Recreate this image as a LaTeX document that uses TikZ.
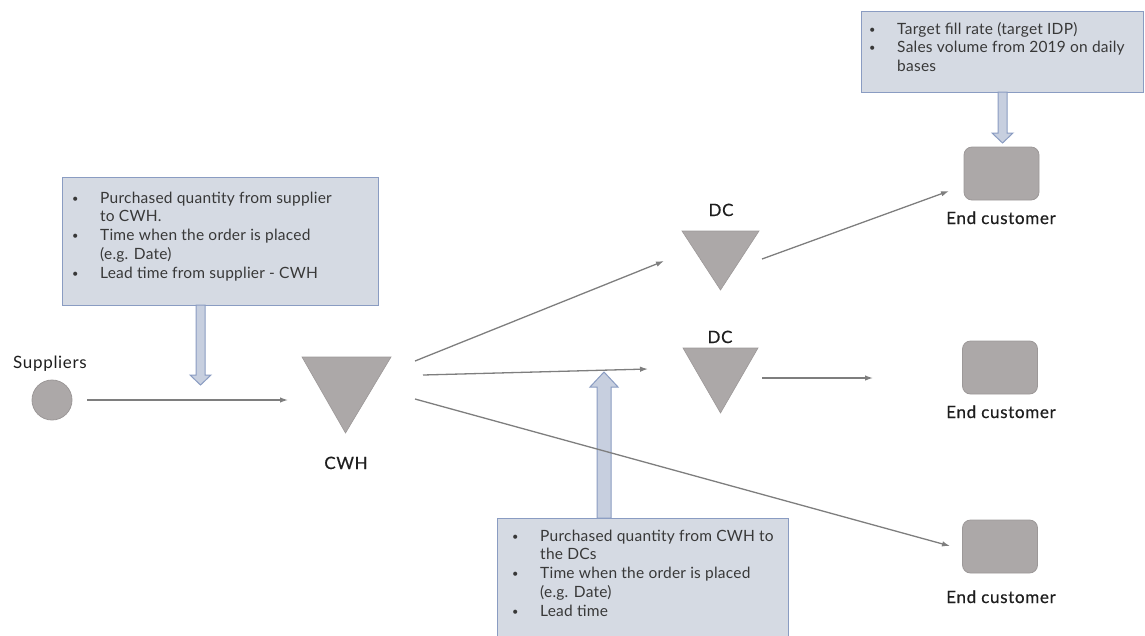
\documentclass[tikz,border=0pt]{standalone}
\usepackage{fontspec}
\setmainfont{Lato}
\newfontfamily\notefam[LetterSpace=1.5]{Lato}
\newfontfamily\labelfam[LetterSpace=4, FakeBold=0.5]{Lato}
\newfontfamily\plainlabelfam[LetterSpace=4]{Lato}
\usetikzlibrary{arrows.meta}
\definecolor{boxfill}{HTML}{D5DAE3}
\definecolor{boxline}{HTML}{8A9CC2}
\definecolor{arrfill}{HTML}{C7CFDF}
\definecolor{shapefill}{HTML}{ACA8A8}
\definecolor{shapeline}{HTML}{9C9898}
\definecolor{linkgray}{HTML}{7E7E7E}
\definecolor{labeltext}{HTML}{1E1E1E}
\definecolor{notetext}{HTML}{383838}
\newcommand{\notefont}{\notefam\fontsize{15.5}{18.75}\selectfont}
\newcommand{\bul}{\raisebox{1pt}{\fontsize{11}{11}\selectfont •}}
\begin{document}
\begin{tikzpicture}[x=1pt,y=-1pt,
  notebox/.style={draw=boxline, fill=boxfill, line width=1.1pt, anchor=north west, inner sep=0pt},
  notetxt/.style={anchor=base west, inner sep=0pt, text=notetext, font=\notefont},
  blockarrow/.style={draw=boxline, fill=arrfill, line width=1pt, line join=miter},
  tri/.style={fill=shapefill, draw=shapeline, line width=0.6pt},
  custbox/.style={draw=shapeline, fill=shapefill, line width=0.8pt, rounded corners=8pt, minimum width=75pt, minimum height=53pt, inner sep=0pt},
  lbl/.style={anchor=base, inner sep=0pt, text=labeltext, font=\labelfam\fontsize{17}{19}\selectfont},
  link/.style={draw=linkgray, line width=1.3pt, -{Latex[length=8pt,width=5.5pt]}}]
\useasboundingbox (0,0) rectangle (1145,635);
\clip (0,0) rectangle (1145,635);

% information boxes
\node[notebox, minimum width=316pt, minimum height=128pt] (supnote) at (62,177) {};
\node[notebox, minimum width=282pt, minimum height=81pt] (custnote) at (861,11) {};
\node[notebox, minimum width=291pt, minimum height=140pt] (dcnote) at (497,518) {};

\node[notetxt] (supnotetxt) at (72,203) {\begin{tabular}[t]{@{}p{28pt}@{}l@{}}
  \bul & Purchased quantity from supplier\\
       & to CWH.\\
  \bul & Time when the order is placed\\
       & (e.g. Date)\\
  \bul & Lead time from supplier - CWH
\end{tabular}};
\node[notetxt] (custnotetxt) at (869,34) {\begin{tabular}[t]{@{}p{28pt}@{}l@{}}
  \bul & Target fill rate (target IDP)\\
  \bul & Sales volume from 2019 on daily\\
       & bases
\end{tabular}};
\node[notetxt] (dcnotetxt) at (512,541) {\begin{tabular}[t]{@{}p{28pt}@{}l@{}}
  \bul & Purchased quantity from CWH to\\
       & the DCs\\
  \bul & Time when the order is placed\\
       & (e.g. Date)\\
  \bul & Lead time
\end{tabular}};

% block arrows from the boxes
\draw[blockarrow] (196,305) -- (205,305) -- (205,375) -- (211,375) -- (200.5,385)
  -- (190,375) -- (196,375) -- cycle;
\draw[blockarrow] (998,92) -- (1007,92) -- (1007,133) -- (1013,133) -- (1002.5,143)
  -- (992,133) -- (998,133) -- cycle;
\draw[blockarrow] (597,518) -- (611,518) -- (611,387) -- (618,387) -- (604,372)
  -- (590,387) -- (597,387) -- cycle;

% supplier
\node[circle, fill=shapefill, draw=shapeline, line width=0.8pt, minimum size=40pt, inner sep=0pt] (sup) at (52,400) {};
\node[lbl, font=\plainlabelfam\fontsize{17}{19}\selectfont] (suplbl) at (50,368) {Suppliers};

% central warehouse and distribution centres
\draw[tri] (302,357) -- (391,357) -- (345.5,433) -- cycle;
\node[lbl] (cwh) at (346,469) {CWH};
\draw[tri] (682,231) -- (759,231) -- (720.5,290) -- cycle;
\node[lbl] (dc1) at (721,216) {DC};
\draw[tri] (683,348) -- (758,348) -- (720.5,413) -- cycle;
\node[lbl] (dc2) at (720,343) {DC};

% end customers
\node[custbox] (ec1) at (1001.5,173.5) {};
\node[lbl] (ec1lbl) at (1001,224) {End customer};
\node[custbox] (ec2) at (1000,367.5) {};
\node[lbl] (ec2lbl) at (1001,418) {End customer};
\node[custbox] (ec3) at (1000,546.5) {};
\node[lbl] (ec3lbl) at (1001,603) {End customer};

% connector end points
\coordinate (s0) at (87,400);   \coordinate (s1) at (288,400);
\coordinate (c1a) at (415,361); \coordinate (c1b) at (664,261);
\coordinate (c2a) at (423,375); \coordinate (c2b) at (648,369);
\coordinate (c3a) at (415,399); \coordinate (c3b) at (950,546);
\coordinate (d1a) at (762,259); \coordinate (d1b) at (949,191);
\coordinate (d2a) at (762,378); \coordinate (d2b) at (873,378);

\draw[link] (s0) -- (s1);
\draw[link] (c1a) -- (c1b);
\draw[link] (c2a) -- (c2b);
\draw[link] (c3a) -- (c3b);
\draw[link] (d1a) -- (d1b);
\draw[link] (d2a) -- (d2b);
\end{tikzpicture}
\end{document}
